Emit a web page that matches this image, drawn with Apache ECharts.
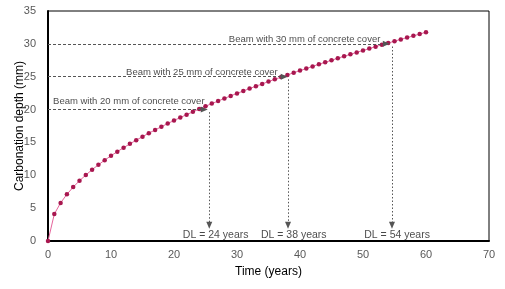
<!DOCTYPE html>
<html><head><meta charset="utf-8">
<script src="https://cdn.jsdelivr.net/npm/echarts@6/dist/echarts.min.js"></script>
<style>html,body{margin:0;padding:0;background:#fff}#c{width:505px;height:289px}</style>
</head><body><div id="c"></div>
<script>
var years = [0,1,2,3,4,5,6,7,8,9,10,11,12,13,14,15,16,17,18,19,20,21,22,23,24,25,26,27,28,29,30,31,32,33,34,35,36,37,38,39,40,41,42,43,44,45,46,47,48,49,50,51,52,53,54,55,56,57,58,59,60];
var depth = [0,4.10,5.80,7.10,8.20,9.17,10.04,10.85,11.60,12.30,12.97,13.60,14.20,14.78,15.34,15.88,16.40,16.90,17.39,17.87,18.34,18.79,19.23,19.66,20.09,20.50,20.91,21.30,21.70,22.08,22.46,22.83,23.19,23.55,23.91,24.26,24.60,24.94,25.27,25.60,25.93,26.25,26.57,26.89,27.20,27.50,27.81,28.11,28.41,28.70,28.99,29.28,29.57,29.85,30.13,30.41,30.68,30.95,31.22,31.49,31.76];
var coverDepth = [20,25,30];
var arrowEndX = [24.8,37.5,53.7];
var dlX = [25.6,38.1,54.6];
var dlArrowTipY = 2.4;
var beamLabels = ["Beam with 20 mm of concrete cover","Beam with 25 mm of concrete cover","Beam with 30 mm of concrete cover"];
var beamLabelPos = [[0.8,21.3],[12.4,25.7],[28.7,30.7]];
var dlLabels = ["DL = 24 years","DL = 38 years","DL = 54 years"];
var dlLabelPos = [[21.4,0.95],[33.8,0.95],[50.2,0.95]];
var xTicks = {min:0,max:70,interval:10};
var yTicks = {min:0,max:35,interval:5};

var mainData = years.map(function(t,i){return [t, depth[i]];});
var markLines = [];
for (var i=0;i<coverDepth.length;i++){
  markLines.push([{coord:[0,coverDepth[i]],symbol:'none'},{coord:[arrowEndX[i],coverDepth[i]],symbol:'triangle',symbolSize:[6,7],lineStyle:{type:[3,2]}}]);
}
for (var j=0;j<dlX.length;j++){
  markLines.push([{coord:[dlX[j],coverDepth[j]-0.4],symbol:'none'},{coord:[dlX[j],dlArrowTipY],symbol:'triangle',symbolSize:[6,7],lineStyle:{type:[1.5,2]}}]);
}
var labelData = [];
beamLabels.forEach(function(s,i){labelData.push({value:beamLabelPos[i],name:s,label:{fontSize:9.5}});});
dlLabels.forEach(function(s,i){labelData.push({value:dlLabelPos[i],name:s,label:{fontSize:10.5}});});

var chart = echarts.init(document.getElementById('c'),null,{renderer:'canvas'});
chart.setOption({
  animation:false,
  backgroundColor:'#fff',
  grid:{left:48,right:16,top:11,bottom:48,show:true,borderColor:'#000',borderWidth:1,containLabel:false,outerBoundsMode:'none'},
  xAxis:{type:'value',min:xTicks.min,max:xTicks.max,interval:xTicks.interval,
    name:'Time (years)',nameLocation:'middle',nameGap:25,nameMoveOverlap:false,nameTextStyle:{color:'#000',fontSize:12,fontFamily:'Liberation Sans'},
    axisLine:{show:true,lineStyle:{color:'#000',width:2}},axisTick:{show:false},splitLine:{show:false},
    axisLabel:{color:'#595959',fontSize:11,fontFamily:'Liberation Sans',margin:8}},
  yAxis:{type:'value',min:yTicks.min,max:yTicks.max,interval:yTicks.interval,
    name:'Carbonation depth (mm)',nameLocation:'middle',nameGap:22,nameMoveOverlap:false,nameRotate:90,nameTextStyle:{color:'#000',fontSize:12,fontFamily:'Liberation Sans'},
    axisLine:{show:true,lineStyle:{color:'#000',width:2}},axisTick:{show:false},splitLine:{show:false},
    axisLabel:{color:'#595959',fontSize:11,fontFamily:'Liberation Sans',margin:12}},
  series:[
    {type:'line',data:mainData,symbol:'circle',symbolSize:4.5,showSymbol:true,
     lineStyle:{color:'#e5649b',width:1},itemStyle:{color:'#a8174f',borderWidth:0},z:3,
     markLine:{silent:true,animation:false,label:{show:false},
       lineStyle:{color:'#555',width:1,type:[3,2]},data:markLines}},
    {type:'scatter',data:labelData,symbolSize:0,z:5,silent:true,
     label:{show:true,position:'right',distance:0,formatter:function(p){return p.name;},color:'#1a1a1a',fontFamily:'Liberation Sans'}}
  ]
});
</script></body></html>
